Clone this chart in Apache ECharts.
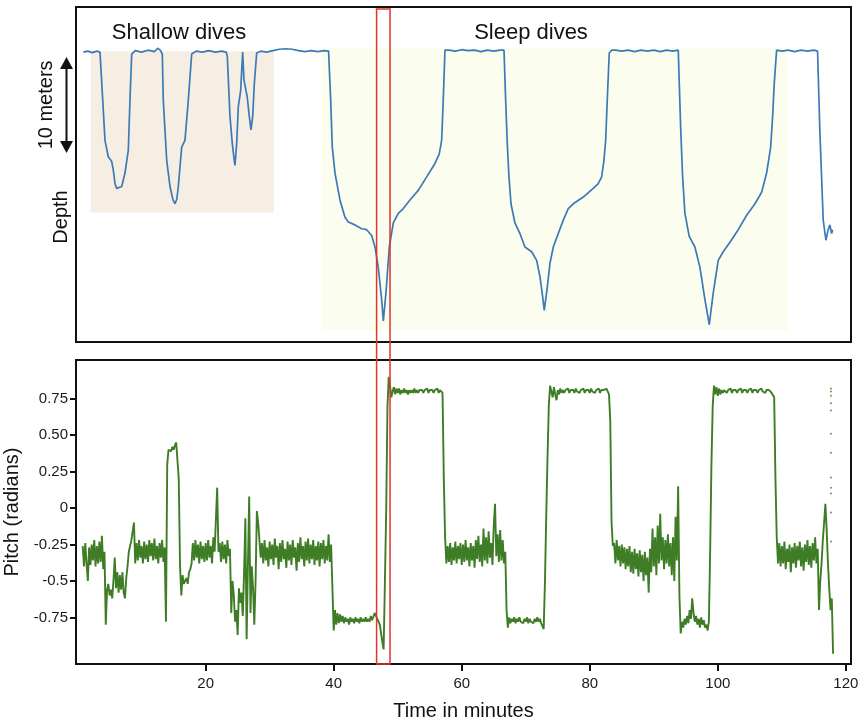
<!DOCTYPE html>
<html><head><meta charset="utf-8">
<script src="https://cdn.jsdelivr.net/npm/echarts@6/dist/echarts.min.js"></script>
<style>html,body{margin:0;padding:0;background:#fff}#c{width:858px;height:723px}</style>
</head><body><div id="c"></div>
<script>
// ---------- data (time in minutes) ----------
const timeTicks = [20, 40, 60, 80, 100, 120];
const pitchTickValues = [-0.75, -0.5, -0.25, 0, 0.25, 0.5, 0.75];
const pitchTickLabels = ['-0.75', '-0.5', '-0.25', '0', '0.25', '0.50', '0.75'];

// depth in meters, [time, depth]
const depthSamples = [
 [0.9,0.1],[1.6,0.0],[2.3,0.15],[3.0,0.0],[3.5,0.1],
 [3.65,0.3],[4.01,6.1],[4.28,9.3],[4.79,11.0],[5.33,11.5],[5.58,12.4],[5.84,13.8],[6.1,14.3],[6.36,14.4],[6.89,14.1],[7.4,12.7],[7.92,10.3],[8.18,5.1],[8.45,0.3],
 [9.0,-0.05],[10,0.1],[11,-0.1],[12,0.05],[12.5,-0.3],[12.9,-0.1],[13.1,0.1],
 [13.23,0.3],[13.38,5.1],[13.92,11.4],[14.43,14.1],[14.9,15.5],[15.21,15.9],[15.5,15.4],[15.73,14.1],[16.26,10.0],[16.77,9.3],[17.29,5.1],[17.82,0.3],
 [18.5,0.0],[19.5,0.1],[20.5,-0.05],[21.5,0.1],[22.5,0.0],[23.2,0.1],
 [23.38,0.5],[23.8,6.8],[24.16,9.6],[24.45,11.3],[24.58,11.9],[24.85,9.6],[25.1,5.8],[25.47,4.1],[25.78,0.1],[25.99,3.0],[26.3,3.2],[26.5,4.8],[26.77,6.5],[27.08,8.2],[27.35,6.8],[27.6,3.4],[27.97,0.2],
 [28.6,0.0],[29.5,0.1],[30.5,-0.05],[31.5,-0.2],[32.5,-0.25],[33.5,-0.2],[34.5,-0.05],[35.5,0.05],[36.5,-0.05],[37.5,0.05],[38.5,-0.05],[39.2,0.0],
 [39.31,0.2],[39.53,5.1],[39.78,10.0],[40.2,12.7],[40.98,15.5],[41.76,17.3],[42.28,17.8],[43.32,18.1],[44.37,18.5],[45.15,18.6],[45.93,19.2],[46.45,20.4],[46.96,22.5],[47.49,25.9],[47.75,28.1],
 [48.16,25.2],[48.69,20.4],[49.31,17.9],[50.09,16.9],[50.87,16.4],[51.91,15.5],[53.21,14.5],[54.52,13.1],[55.82,11.7],[56.49,10.7],[56.86,9.3],[57.11,5.1],[57.38,-0.1],
 [58,-0.1],[59,0.0],[60,-0.15],[61,-0.05],[62,-0.1],[63,0.05],[64,-0.1],[65,0.0],[66,-0.1],[66.6,-0.1],
 [66.86,5.1],[67.11,9.6],[67.38,13.1],[67.69,15.9],[68.31,17.9],[69.09,19.0],[69.87,20.4],[70.92,20.9],[71.7,21.8],[72.22,23.5],[72.64,25.6],[72.89,27.0],
 [73.36,24.6],[73.78,22.1],[74.3,20.4],[75.08,19.0],[75.86,17.6],[76.64,16.4],[77.42,15.9],[78.98,15.2],[80.54,14.3],[81.32,13.8],[81.85,13.1],[82.21,11.4],[82.48,9.3],[82.73,5.1],[83.04,0.2],[83.41,-0.1],
 [84,-0.1],[85,0.0],[86,-0.1],[87,0.05],[88,-0.1],[89,0.0],[90,-0.1],[91,0.05],[92,-0.1],[93,0.0],[93.82,-0.1],
 [93.98,3.4],[94.19,7.9],[94.5,13.1],[94.86,16.9],[95.53,19.3],[96.42,20.4],[97.2,22.5],[97.99,25.9],[98.66,28.5],
 [99.28,25.2],[100.06,21.8],[100.84,20.9],[101.89,19.9],[103.19,18.6],[104.5,17.1],[105.8,15.9],[106.84,14.7],[107.62,12.7],[108.25,10.0],[108.56,6.8],[108.81,3.4],[109.18,-0.1],
 [110,0.0],[111,-0.1],[112,0.05],[113,-0.1],[114,0.0],[115,-0.1],[115.58,0.0],
 [115.95,8.6],[116.46,17.6],[116.88,19.7],[117.24,18.6],[117.5,18.1],[117.77,19.0],[117.93,18.6]
];

// pitch in radians, [time, pitch]
const pitchSamples = [
 [0.8,-0.26],[1.0,-0.40],[1.2,-0.24],[1.4,-0.38],[1.6,-0.50],[1.8,-0.27],[2.0,-0.39],[2.2,-0.25],[2.4,-0.36],[2.6,-0.22],[2.8,-0.40],[3.0,-0.26],[3.2,-0.38],[3.4,-0.23],[3.6,-0.37],[3.8,-0.19],[4.0,-0.42],[4.2,-0.30],
 [4.4,-0.80],[4.6,-0.56],[4.8,-0.52],[5.0,-0.60],[5.2,-0.56],[5.4,-0.62],[5.6,-0.50],[5.8,-0.34],[6.0,-0.55],[6.2,-0.44],[6.4,-0.58],[6.6,-0.46],[6.8,-0.56],[7.0,-0.44],[7.2,-0.58],[7.4,-0.62],[7.6,-0.48],[7.8,-0.40],[8.0,-0.30],[8.2,-0.26],[8.4,-0.22],[8.6,-0.16],[8.8,-0.10],
 [9.0,-0.38],[9.2,-0.24],[9.4,-0.36],[9.6,-0.22],[9.8,-0.34],[10.0,-0.26],[10.2,-0.38],[10.4,-0.23],[10.6,-0.35],[10.8,-0.25],[11.0,-0.37],[11.2,-0.22],[11.4,-0.33],[11.6,-0.24],[11.8,-0.36],[12.0,-0.21],[12.2,-0.35],[12.4,-0.26],[12.6,-0.38],[12.8,-0.24],[13.0,-0.34],[13.2,-0.22],[13.4,-0.37],[13.6,-0.27],
 [13.8,-0.78],[14.0,0.30],[14.2,0.40],[14.4,0.41],[14.6,0.39],[14.8,0.42],[15.0,0.40],[15.2,0.43],[15.4,0.45],[15.6,0.46],[15.8,0.20],[16.0,-0.40],[16.2,-0.60],[16.4,-0.46],[16.6,-0.52],[16.8,-0.50],[17.0,-0.48],[17.2,-0.52],[17.4,-0.44],[17.6,-0.42],[17.8,-0.38],
 [18.0,-0.24],[18.2,-0.36],[18.4,-0.22],[18.6,-0.34],[18.8,-0.25],[19.0,-0.38],[19.2,-0.23],[19.4,-0.35],[19.6,-0.26],[19.8,-0.37],[20.0,-0.24],[20.2,-0.36],[20.4,-0.22],[20.6,-0.34],[20.8,-0.26],[21.0,-0.38],[21.2,-0.20],[21.4,-0.30],[21.6,-0.08],[21.8,0.14],[22.0,-0.30],[22.2,-0.24],[22.4,-0.37],[22.6,-0.23],[22.8,-0.35],[23.0,-0.25],[23.2,-0.38],[23.4,-0.22],[23.6,-0.33],[23.8,-0.28],
 [24.0,-0.72],[24.2,-0.50],[24.4,-0.60],[24.6,-0.78],[24.8,-0.70],[25.0,-0.87],[25.2,-0.55],[25.4,-0.65],[25.6,-0.58],[25.8,-0.74],[26.0,-0.45],[26.2,-0.07],[26.4,-0.90],[26.6,-0.40],[26.8,0.08],[27.0,-0.72],[27.2,-0.40],[27.4,-0.55],[27.6,-0.80],[27.8,-0.50],[28.0,-0.02],[28.2,-0.10],[28.4,-0.22],[28.6,-0.34],
 [28.8,-0.24],[29.0,-0.38],[29.2,-0.22],[29.4,-0.36],[29.6,-0.27],[29.8,-0.40],[30.0,-0.23],[30.2,-0.35],[30.4,-0.25],[30.6,-0.39],[30.8,-0.21],[31.0,-0.34],[31.2,-0.26],[31.4,-0.42],[31.6,-0.24],[31.8,-0.37],[32.0,-0.22],[32.2,-0.35],[32.4,-0.28],[32.6,-0.41],[32.8,-0.23],[33.0,-0.36],[33.2,-0.25],[33.4,-0.39],[33.6,-0.22],[33.8,-0.34],[34.0,-0.27],[34.2,-0.43],[34.4,-0.24],[34.6,-0.37],[34.8,-0.20],[35.0,-0.35],[35.2,-0.26],[35.4,-0.40],[35.6,-0.23],[35.8,-0.36],[36.0,-0.21],[36.2,-0.38],[36.4,-0.25],[36.6,-0.35],[36.8,-0.22],[37.0,-0.39],[37.2,-0.26],[37.4,-0.36],[37.6,-0.23],[37.8,-0.40],[38.0,-0.24],[38.2,-0.35],[38.4,-0.22],[38.6,-0.38],[38.8,-0.26],[39.0,-0.36],[39.2,-0.18],[39.4,-0.37],[39.6,-0.25],
 [39.8,-0.55],[40.0,-0.84],[40.2,-0.70],[40.4,-0.80],[40.6,-0.72],[40.8,-0.79],[41.0,-0.73],[41.2,-0.78],[41.4,-0.74],[41.6,-0.79],[41.8,-0.75],[42.0,-0.78],[42.2,-0.76],[42.4,-0.80],[42.6,-0.75],[42.8,-0.78],[43.0,-0.76],[43.2,-0.79],[43.4,-0.75],[43.6,-0.78],[43.8,-0.76],[44.0,-0.79],[44.2,-0.75],[44.4,-0.78],[44.6,-0.76],[44.8,-0.78],[45.0,-0.75],[45.2,-0.78],[45.4,-0.76],[45.6,-0.78],[45.8,-0.74],[46.0,-0.77],[46.2,-0.76],[46.4,-0.72],
 [46.6,-0.74],[46.8,-0.76],[47.0,-0.78],[47.2,-0.80],[47.4,-0.86],[47.6,-0.92],[47.8,-0.97],[48.0,-0.50],[48.2,-0.02],[48.4,0.70],[48.6,0.90],[48.8,0.84],[49.0,0.76],
 [49.2,0.80],[49.4,0.83],[49.6,0.78],[49.8,0.82],[50.0,0.79],[50.2,0.82],[50.4,0.78],[50.6,0.81],[50.8,0.79],[51.0,0.82],[51.2,0.79],[51.4,0.81],[51.6,0.78],[51.8,0.81],[52.0,0.79],[52.2,0.81],[52.4,0.79],[52.6,0.82],[52.8,0.79],[53.0,0.81],[53.2,0.79],[53.4,0.81],[53.6,0.80],[53.8,0.81],[54.0,0.79],[54.2,0.81],[54.4,0.80],[54.6,0.82],[54.8,0.79],[55.0,0.81],[55.2,0.80],[55.4,0.81],[55.6,0.79],[55.8,0.81],[56.0,0.80],[56.2,0.82],[56.4,0.79],[56.6,0.81],[56.8,0.80],[57.0,0.79],
 [57.2,0.20],[57.4,-0.20],[57.6,-0.38],
 [57.8,-0.26],[58.0,-0.37],[58.2,-0.24],[58.4,-0.39],[58.6,-0.27],[58.8,-0.36],[59.0,-0.23],[59.2,-0.38],[59.4,-0.26],[59.6,-0.35],[59.8,-0.24],[60.0,-0.39],[60.2,-0.25],[60.4,-0.37],[60.6,-0.22],[60.8,-0.36],[61.0,-0.27],[61.2,-0.40],[61.4,-0.24],[61.6,-0.36],[61.8,-0.26],[62.0,-0.41],[62.2,-0.22],[62.4,-0.35],[62.6,-0.19],[62.8,-0.37],[63.0,-0.25],[63.2,-0.40],[63.4,-0.14],[63.6,-0.36],[63.8,-0.20],[64.0,-0.38],[64.2,-0.16],[64.4,-0.34],[64.6,-0.24],[64.8,-0.39],[65.0,-0.12],[65.2,0.03],[65.4,-0.33],[65.6,-0.18],[65.8,-0.37],[66.0,-0.15],[66.2,-0.36],[66.4,-0.22],[66.6,-0.38],[66.8,-0.30],
 [67.0,-0.70],[67.2,-0.82],
 [67.4,-0.75],[67.6,-0.79],[67.8,-0.76],[68.0,-0.78],[68.2,-0.75],[68.4,-0.79],[68.6,-0.76],[68.8,-0.78],[69.0,-0.75],[69.2,-0.78],[69.4,-0.77],[69.6,-0.79],[69.8,-0.76],[70.0,-0.78],[70.2,-0.75],[70.4,-0.79],[70.6,-0.76],[70.8,-0.78],[71.0,-0.77],[71.2,-0.79],[71.4,-0.76],[71.6,-0.78],[71.8,-0.75],[72.0,-0.78],[72.2,-0.76],[72.4,-0.79],[72.6,-0.80],[72.8,-0.83],
 [73.0,-0.50],[73.2,-0.05],[73.4,0.35],[73.6,0.70],[73.8,0.84],[74.0,0.80],[74.2,0.76],[74.4,0.83],[74.6,0.78],[74.8,0.74],[75.0,0.81],[75.2,0.78],[75.4,0.82],[75.6,0.79],[75.8,0.81],
 [76.0,0.79],[76.2,0.81],[76.4,0.80],[76.6,0.82],[76.8,0.79],[77.0,0.81],[77.2,0.80],[77.4,0.81],[77.6,0.79],[77.8,0.82],[78.0,0.80],[78.2,0.81],[78.4,0.79],[78.6,0.81],[78.8,0.80],[79.0,0.82],[79.2,0.79],[79.4,0.81],[79.6,0.80],[79.8,0.81],[80.0,0.79],[80.2,0.82],[80.4,0.80],[80.6,0.81],[80.8,0.79],[81.0,0.81],[81.2,0.80],[81.4,0.82],[81.6,0.79],[81.8,0.81],[82.0,0.80],[82.2,0.81],[82.4,0.80],[82.6,0.82],[82.8,0.80],[83.0,0.78],
 [83.2,0.60],[83.4,-0.10],[83.6,-0.26],
 [83.8,-0.24],[84.0,-0.38],[84.2,-0.22],[84.4,-0.36],[84.6,-0.26],[84.8,-0.40],[85.0,-0.25],[85.2,-0.38],[85.4,-0.27],[85.6,-0.42],[85.8,-0.28],[86.0,-0.40],[86.2,-0.26],[86.4,-0.44],[86.6,-0.30],[86.8,-0.45],[87.0,-0.28],[87.2,-0.42],[87.4,-0.31],[87.6,-0.47],[87.8,-0.29],[88.0,-0.44],[88.2,-0.32],[88.4,-0.50],[88.6,-0.30],[88.8,-0.46],[89.0,-0.34],[89.2,-0.58],[89.4,-0.28],[89.6,-0.44],[89.8,-0.14],[90.0,-0.40],[90.2,-0.20],[90.4,-0.46],[90.6,-0.12],[90.8,-0.38],[91.0,-0.04],[91.2,-0.36],[91.4,-0.20],[91.6,-0.42],[91.8,-0.22],[92.0,-0.38],[92.2,-0.18],[92.4,-0.40],[92.6,-0.24],[92.8,-0.46],[93.0,-0.20],[93.2,-0.50],[93.4,-0.06],[93.6,-0.36],[93.8,0.15],[94.0,-0.60],
 [94.2,-0.86],[94.4,-0.78],[94.6,-0.82],[94.8,-0.76],[95.0,-0.80],[95.2,-0.74],[95.4,-0.79],[95.6,-0.70],[95.8,-0.76],[96.0,-0.62],[96.2,-0.72],[96.4,-0.78],[96.6,-0.74],[96.8,-0.80],[97.0,-0.76],[97.2,-0.82],[97.4,-0.75],[97.6,-0.80],[97.8,-0.77],[98.0,-0.82],[98.2,-0.80],[98.4,-0.84],[98.6,-0.78],
 [98.8,-0.30],[99.0,0.30],[99.2,0.70],[99.4,0.84],[99.6,0.78],[99.8,0.83],[100.0,0.77],[100.2,0.82],[100.4,0.78],[100.6,0.81],[100.8,0.79],[101.0,0.81],
 [101.2,0.80],[101.4,0.79],[101.6,0.81],[101.8,0.80],[102.0,0.82],[102.2,0.79],[102.4,0.81],[102.6,0.80],[102.8,0.81],[103.0,0.79],[103.2,0.81],[103.4,0.80],[103.6,0.82],[103.8,0.79],[104.0,0.81],[104.2,0.80],[104.4,0.81],[104.6,0.79],[104.8,0.81],[105.0,0.80],[105.2,0.82],[105.4,0.79],[105.6,0.81],[105.8,0.80],[106.0,0.81],[106.2,0.79],[106.4,0.81],[106.6,0.80],[106.8,0.82],[107.0,0.80],[107.2,0.81],[107.4,0.79],[107.6,0.81],[107.8,0.80],[108.0,0.81],[108.2,0.80],[108.4,0.79],[108.6,0.80],[108.8,0.76],
 [109.0,0.20],[109.2,-0.20],[109.4,-0.38],
 [109.6,-0.24],[109.8,-0.40],[110.0,-0.26],[110.2,-0.38],[110.4,-0.23],[110.6,-0.42],[110.8,-0.28],[111.0,-0.37],[111.2,-0.25],[111.4,-0.44],[111.6,-0.27],[111.8,-0.38],[112.0,-0.24],[112.2,-0.41],[112.4,-0.26],[112.6,-0.36],[112.8,-0.23],[113.0,-0.40],[113.2,-0.27],[113.4,-0.43],[113.6,-0.25],[113.8,-0.37],[114.0,-0.22],[114.2,-0.39],[114.4,-0.26],[114.6,-0.41],[114.8,-0.24],[115.0,-0.36],[115.2,-0.20],[115.4,-0.38],[115.6,-0.28],
 [115.8,-0.70],[116.0,-0.50],[116.2,-0.38],[116.4,-0.22],[116.6,-0.10],[116.8,0.03],[117.0,-0.15],[117.2,-0.38],[117.4,-0.55],[117.6,-0.70],[117.8,-0.62],[118.0,-1.00]
];

// sparse pitch samples at the very end (fast transition)
const pitchDots = [
 [117.67,0.82],[117.67,0.80],[117.67,0.77],[117.67,0.72],[117.67,0.67],[117.67,0.51],[117.67,0.38],[117.67,0.21],[117.67,0.14],[117.67,0.10],[117.67,-0.03],[117.67,-0.23]
];

// annotated periods
const shallowPeriod = { start: 2.05, end: 30.67, top: 0, bottom: 16.8 };
const sleepPeriod = { start: 38.1, end: 110.9, top: -0.3, bottom: 29.1 };
const highlightWindow = { start: 46.7, end: 48.8 };
const scaleBar = { top: 0.6, bottom: 10.6 };

// ---------- chart ----------
const FONT = "'Liberation Sans', Arial, Helvetica, sans-serif";
const G0 = { left: 76, top: 7, width: 775, height: 335 };
const G1 = { left: 76, top: 360, width: 775, height: 304 };
const chart = echarts.init(document.getElementById('c'), null, { renderer: 'canvas' });

const gridBase = { show: true, borderColor: '#111', borderWidth: 2, backgroundColor: 'transparent', containLabel: false, outerBoundsMode: 'none' };

const option = {
  animation: false,
  backgroundColor: '#ffffff',
  textStyle: { fontFamily: FONT },
  grid: [ Object.assign({}, gridBase, G0), Object.assign({}, gridBase, G1) ],
  xAxis: [
    { type: 'value', gridIndex: 0, min: -0.25, max: 120.8, show: false },
    { type: 'value', gridIndex: 1, min: -0.25, max: 120.8, position: 'bottom',
      axisLine: { show: false, onZero: false },
      splitLine: { show: false },
      axisTick: { show: true, customValues: timeTicks, length: 7, lineStyle: { color: '#111', width: 2 } },
      axisLabel: { customValues: timeTicks, fontSize: 15, color: '#1a1a1a', margin: 12, fontFamily: FONT },
      name: 'Time in minutes', nameLocation: 'middle', nameGap: 37,
      nameTextStyle: { fontSize: 20, color: '#111', fontFamily: FONT }
    }
  ],
  yAxis: [
    { type: 'value', gridIndex: 0, inverse: true, min: -4.6, max: 30.3, show: false },
    { type: 'value', gridIndex: 1, min: -1.07, max: 1.016, position: 'left',
      axisLine: { show: false, onZero: false },
      splitLine: { show: false },
      axisTick: { show: true, customValues: pitchTickValues, length: 6, lineStyle: { color: '#111', width: 2 } },
      axisLabel: { customValues: pitchTickValues, fontSize: 15, color: '#1a1a1a', margin: 8, fontFamily: FONT,
        formatter: v => { const i = pitchTickValues.findIndex(t => Math.abs(t - v) < 1e-6); return i >= 0 ? pitchTickLabels[i] : ''; } },
      name: 'Pitch (radians)', nameLocation: 'middle', nameGap: 43,
      nameTextStyle: { fontSize: 20, color: '#111', fontFamily: FONT }
    }
  ],
  series: [
    { type: 'line', name: 'periods', xAxisIndex: 0, yAxisIndex: 0, data: [], z: 1, silent: true,
      markArea: { silent: true,
        data: [
          [{ xAxis: shallowPeriod.start, yAxis: shallowPeriod.top, itemStyle: { color: '#f7eee3' } }, { xAxis: shallowPeriod.end, yAxis: shallowPeriod.bottom }],
          [{ xAxis: sleepPeriod.start, yAxis: sleepPeriod.top, itemStyle: { color: '#fbfdee' } }, { xAxis: sleepPeriod.end, yAxis: sleepPeriod.bottom }]
        ]
      }
    },
    { type: 'line', name: 'Depth', xAxisIndex: 0, yAxisIndex: 0, data: depthSamples, z: 3,
      showSymbol: false, symbol: 'none', smooth: false,
      lineStyle: { color: '#3c79b7', width: 1.7 } },
    { type: 'line', name: 'Pitch', xAxisIndex: 1, yAxisIndex: 1, data: pitchSamples, z: 3,
      showSymbol: false, symbol: 'none',
      lineStyle: { color: '#3e7d25', width: 1.9 } },
    { type: 'scatter', name: 'Pitch sparse', xAxisIndex: 1, yAxisIndex: 1, data: pitchDots, z: 3,
      symbolSize: 2, itemStyle: { color: '#3e7d25' } }
  ]
};
chart.setOption(option);

// annotations positioned through the axes' own scales
const px = v => chart.convertToPixel({ xAxisIndex: 0 }, v);
const py = v => chart.convertToPixel({ yAxisIndex: 0 }, v);
const hx1 = px(highlightWindow.start), hx2 = px(highlightWindow.end);
const sTop = py(scaleBar.top), sBot = py(scaleBar.bottom);
const ax = G0.left - 9.5;
const headH = 12, headW = 6.5;

chart.setOption({
  graphic: [
    { type: 'text', x: 179, y: 33, style: { text: 'Shallow dives', font: '22px ' + FONT, fill: '#111', align: 'center', verticalAlign: 'middle' } },
    { type: 'text', x: 531, y: 33, style: { text: 'Sleep dives', font: '22px ' + FONT, fill: '#111', align: 'center', verticalAlign: 'middle' } },
    { type: 'text', x: 61, y: 217, rotation: Math.PI / 2, style: { text: 'Depth', font: '20px ' + FONT, fill: '#111', align: 'center', verticalAlign: 'middle' } },
    { type: 'text', x: 46, y: (sTop + sBot) / 2, rotation: Math.PI / 2, style: { text: '10 meters', font: '20px ' + FONT, fill: '#111', align: 'center', verticalAlign: 'middle' } },
    { type: 'line', shape: { x1: ax, y1: sTop + headH - 2, x2: ax, y2: sBot - headH + 2 }, style: { stroke: '#111', lineWidth: 2 } },
    { type: 'polygon', shape: { points: [[ax, sTop], [ax - headW, sTop + headH], [ax + headW, sTop + headH]] }, style: { fill: '#111' } },
    { type: 'polygon', shape: { points: [[ax, sBot], [ax - headW, sBot - headH], [ax + headW, sBot - headH]] }, style: { fill: '#111' } },
    { type: 'rect', z: 100, shape: { x: hx1, y: G0.top + 2, width: hx2 - hx1, height: (G1.top + G1.height) - (G0.top + 2) },
      style: { fill: 'none', stroke: '#e3342b', lineWidth: 1.5 } }
  ]
});
</script>
</body></html>
